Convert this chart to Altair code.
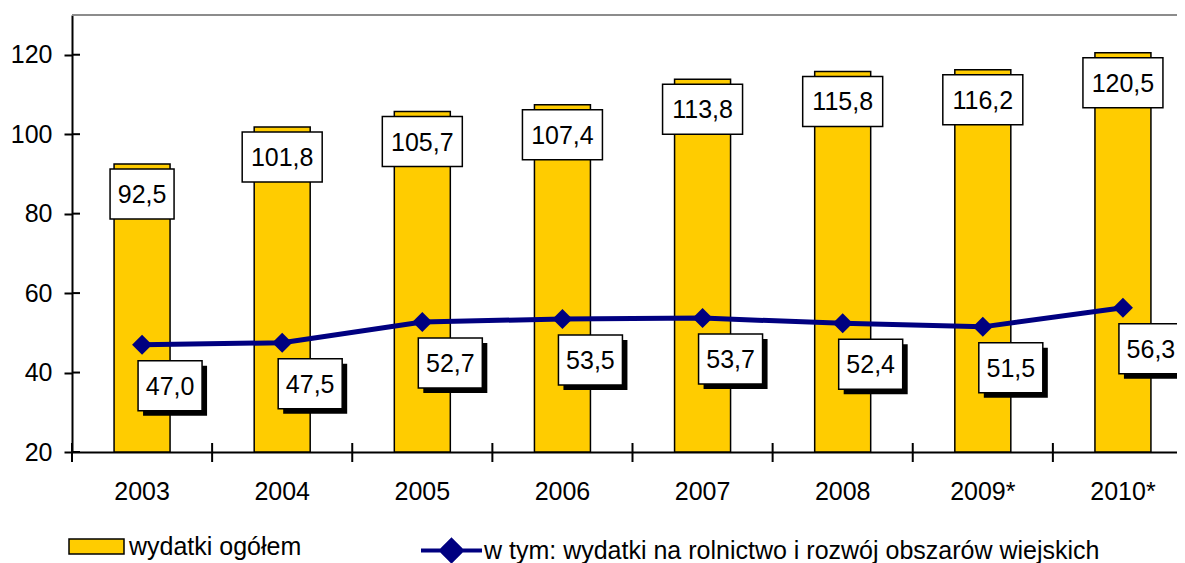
import altair as alt
import pandas as pd

# ---- data ----
years = ["2003", "2004", "2005", "2006", "2007", "2008", "2009*", "2010*"]
total = [92.5, 101.8, 105.7, 107.4, 113.8, 115.8, 116.2, 120.5]
rural = [47.0, 47.5, 52.7, 53.5, 53.7, 52.4, 51.5, 56.3]
y_ticks = [20, 40, 60, 80, 100, 120]
name_total = "wydatki ogółem"
name_rural = "w tym: wydatki na rolnictwo i rozwój obszarów wiejskich"

df = pd.DataFrame({"year": years, "total": total, "rural": rural})
df_ticks = pd.DataFrame({"t": y_ticks})

# ---- layout / style ----
W, H = 1105, 437
FONT = "Liberation Sans"
FS = 25
LFS = 25
YELLOW = "#FFCC00"
NAVY = "#000080"

xscale = alt.Scale(domain=years, range=[0, 1121], paddingInner=0, paddingOuter=0)
yscale = alt.Scale(domain=[20, 130], nice=False, zero=False)

xaxis = alt.Axis(title=None, ticks=False, labelPadding=27,
                 labelFontSize=FS, labelColor="black", labelFont=FONT,
                 domainColor="black", domainWidth=2, labelAngle=0, grid=False)
yaxis = alt.Axis(title=None, values=y_ticks, tickSize=8, tickWidth=2,
                 tickColor="black", domainColor="black", domainWidth=2,
                 labelFontSize=FS, labelFont=FONT, labelColor="black",
                 labelPadding=12, grid=False)

X = alt.X("year:N", sort=years, scale=xscale, axis=xaxis)
YT = alt.Y("total:Q", scale=yscale, axis=yaxis)
YR = alt.Y("rural:Q", scale=yscale, axis=yaxis)

base = alt.Chart(df).transform_calculate(
    tl="replace(format(datum.total, '.1f'), '.', ',')",
    rl="replace(format(datum.rural, '.1f'), '.', ',')",
    s1=f"'{name_total}'",
    s2=f"'{name_rural}'",
)

top_rule = alt.Chart(df).mark_rule(color="#8c8c8c", strokeWidth=2).encode(
    x=alt.value(0), x2=alt.value(W), y=alt.value(0))

bars = base.mark_bar(size=56, stroke="black", strokeWidth=1.5).encode(
    x=X, y=YT, y2=alt.datum(20),
    fill=alt.Fill("s1:N", scale=alt.Scale(domain=[name_total], range=[YELLOW]),
                  legend=alt.Legend(orient="none", legendX=-4, legendY=503,
                                    title=None, padding=0, labelLimit=2000,
                                    symbolType="M-1,-0.27L1,-0.27L1,0.27L-1,0.27Z",
                                    symbolSize=3025, symbolStrokeColor="black",
                                    symbolStrokeWidth=1.5, symbolOpacity=1,
                                    labelFontSize=LFS, labelFont=FONT,
                                    labelColor="black", labelOffset=4)),
)

y_inner = alt.Chart(df_ticks).mark_rule(color="black", strokeWidth=2).encode(
    y=alt.Y("t:Q", scale=yscale, axis=yaxis), x=alt.value(0), x2=alt.value(8))

x_ticks = alt.Chart(df).mark_rule(color="black", strokeWidth=2).encode(
    x=alt.X("year:N", sort=years, scale=xscale, bandPosition=0, axis=xaxis),
    y=alt.value(H - 9), y2=alt.value(H + 10))

top_box_s = base.transform_filter("length(datum.tl) <= 4").mark_rect(
    width=64, height=50, yOffset=30, fill="white", stroke="black", strokeWidth=1.5
).encode(x=X, y=YT)
top_box_l = base.transform_filter("length(datum.tl) > 4").mark_rect(
    width=80, height=50, yOffset=30, fill="white", stroke="black", strokeWidth=1.5
).encode(x=X, y=YT)
top_text = base.mark_text(fontSize=FS, font=FONT, color="black", yOffset=31,
                          baseline="middle").encode(x=X, y=YT, text="tl:N")

line = base.mark_line(strokeWidth=5).encode(
    x=X, y=YR,
    stroke=alt.Stroke("s2:N", scale=alt.Scale(domain=[name_rural], range=[NAVY]),
                      legend=alt.Legend(orient="none", legendX=347, legendY=503,
                                        title=None, padding=0, labelLimit=2000,
                                        symbolType="M-1,0L1,0M0,-0.34L0.34,0L0,0.34L-0.34,0Z",
                                        symbolSize=3721, symbolStrokeColor=NAVY,
                                        symbolFillColor=NAVY, symbolStrokeWidth=4,
                                        symbolOpacity=1,
                                        labelFontSize=LFS, labelFont=FONT,
                                        labelColor="black", labelOffset=0)),
)
pts = base.mark_point(shape="diamond", size=400, filled=True, color=NAVY, opacity=1).encode(
    x=X, y=YR)

shadow = base.mark_rect(width=64, height=50, xOffset=33, yOffset=46, fill="black").encode(
    x=X, y=YR)
rbox = base.mark_rect(width=64, height=50, xOffset=28, yOffset=41, fill="white",
                      stroke="black", strokeWidth=1.5).encode(x=X, y=YR)
rtext = base.mark_text(fontSize=FS, font=FONT, color="black", xOffset=28, yOffset=42,
                       baseline="middle").encode(x=X, y=YR, text="rl:N")

chart = alt.layer(
    top_rule, bars, y_inner, x_ticks, top_box_s, top_box_l, top_text,
    line, pts, shadow, rbox, rtext
).properties(
    width=W, height=H,
    autosize=alt.AutoSizeParams(type="none"),
    padding={"left": 64, "top": 7, "right": 0, "bottom": 112},
).configure_view(stroke=None).configure(font=FONT)

chart.save("out.html", embed_options={"renderer": "svg", "actions": False})
